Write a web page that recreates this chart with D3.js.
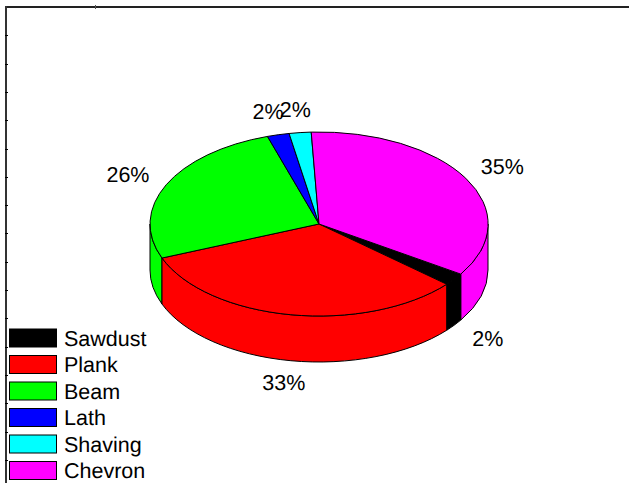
<!DOCTYPE html>
<html>
<head>
<meta charset="utf-8">
<script src="https://cdn.jsdelivr.net/npm/d3@7/dist/d3.min.js"></script>
<style>
html,body{margin:0;padding:0;background:#fff;overflow:hidden}
svg{display:block}
text{font-family:"Liberation Sans",Arial,sans-serif;fill:#000;text-rendering:geometricPrecision}
.shape{vector-effect:non-scaling-stroke;stroke:#000;stroke-width:1;stroke-linejoin:round}
</style>
</head>
<body>
<svg id="chart" width="629" height="483"></svg>
<script>
const categories = ["Sawdust", "Plank", "Beam", "Lath", "Shaving", "Chevron"];
const values = [2.2, 32.6, 26.1, 2.1, 2.1, 34.9];
const colors = ["#000000", "#ff0000", "#00ff00", "#0000ff", "#00ffff", "#ff00ff"];
const leftTicks = [1, 2, 3, 4, 5, 6, 7, 8, 9, 10, 11, 12, 13, 14, 15, 16];

const W = 629, H = 483;
const cx = 319, cy = 224, rx = 169, ry = 92, depth = 46;
const startDeg = 123;

const svg = d3.select("#chart");
const total = d3.sum(values);

// Frame
const frame = svg.append("g");
frame.append("rect").attr("x", 5).attr("y", 6).attr("width", W - 5).attr("height", 2).attr("fill", "#222");
frame.append("rect").attr("x", 5).attr("y", 6).attr("width", 2).attr("height", H - 6).attr("fill", "#333");
const tickY = d3.scaleLinear().domain([0, 16]).range([7, 7 + 16 * 28.3]);
frame.selectAll("line.t").data(leftTicks).join("line").attr("class", "t")
  .attr("x1", 5).attr("x2", 8)
  .attr("y1", d => Math.round(tickY(d)) + 0.5).attr("y2", d => Math.round(tickY(d)) + 0.5)
  .attr("stroke", "#000");
frame.append("line").attr("x1", 95.5).attr("x2", 95.5).attr("y1", 5).attr("y2", 9).attr("stroke", "#555");

// Pie layout
const pie = d3.pie().sort(null).value(d => d)
  .startAngle(startDeg * Math.PI / 180)
  .endAngle((startDeg + 360) * Math.PI / 180);
const arcs = pie(values);
const arcGen = d3.arc().innerRadius(0).outerRadius(1);

const unit = svg.append("g").attr("transform", `translate(${cx},${cy}) scale(${rx},${ry})`);
const h = depth / ry;

// Side walls: only the front half (screen angle 0..PI), in d3 angles offset by -PI/2
function wall(d) {
  let out = [];
  for (const k of [0, 2]) {
    const a0 = Math.max(d.startAngle - Math.PI / 2, k * Math.PI);
    const a1 = Math.min(d.endAngle - Math.PI / 2, (k + 1) * Math.PI);
    if (a1 > a0) out.push([a0, a1]);
  }
  return out;
}
const walls = arcs.flatMap((d, i) => wall(d).map(w => ({ w, i })));
walls.sort((a, b) => Math.abs(Math.cos((a.w[0] + a.w[1]) / 2)) < Math.abs(Math.cos((b.w[0] + b.w[1]) / 2)) ? 1 : -1);
unit.selectAll("path.wall").data(walls).join("path").attr("class", "wall shape")
  .attr("fill", d => colors[d.i])
  .attr("d", d => {
    const p = d3.path();
    const [a0, a1] = d.w;
    p.moveTo(Math.cos(a0), Math.sin(a0));
    p.arc(0, 0, 1, a0, a1);
    p.lineTo(Math.cos(a1), Math.sin(a1) + h);
    p.arc(0, h, 1, a1, a0, true);
    p.closePath();
    return p.toString();
  });

// Top face
unit.selectAll("path.top").data(arcs).join("path").attr("class", "top shape")
  .attr("fill", (d, i) => colors[i])
  .attr("d", arcGen);

// Percent labels
const labelK = 1.25;
svg.selectAll("text.pct").data(arcs).join("text").attr("class", "pct")
  .attr("text-anchor", "middle").attr("dominant-baseline", "central")
  .attr("font-size", 21.5)
  .attr("x", d => {
    const m = (d.startAngle + d.endAngle) / 2 - Math.PI / 2;
    return cx + labelK * rx * Math.cos(m);
  })
  .attr("y", d => {
    const m = (d.startAngle + d.endAngle) / 2 - Math.PI / 2;
    const s = Math.sin(m);
    return cy + labelK * ry * s + (s > 0 ? depth : 0);
  })
  .text(d => Math.round(d.value / total * 100) + "%");

// Legend
const legendY = d3.scaleBand().domain(categories).range([325.5, 484.5]);
const legend = svg.selectAll("g.leg").data(categories).join("g").attr("class", "leg")
  .attr("transform", d => `translate(0,${legendY(d)})`);
legend.append("rect").attr("x", 9.5).attr("y", 3.5).attr("width", 47).attr("height", 18)
  .attr("fill", (d, i) => colors[i]).attr("stroke", "#000");
legend.append("text").attr("x", 64).attr("y", 20).attr("font-size", 21.5).text(d => d);
</script>
</body>
</html>
